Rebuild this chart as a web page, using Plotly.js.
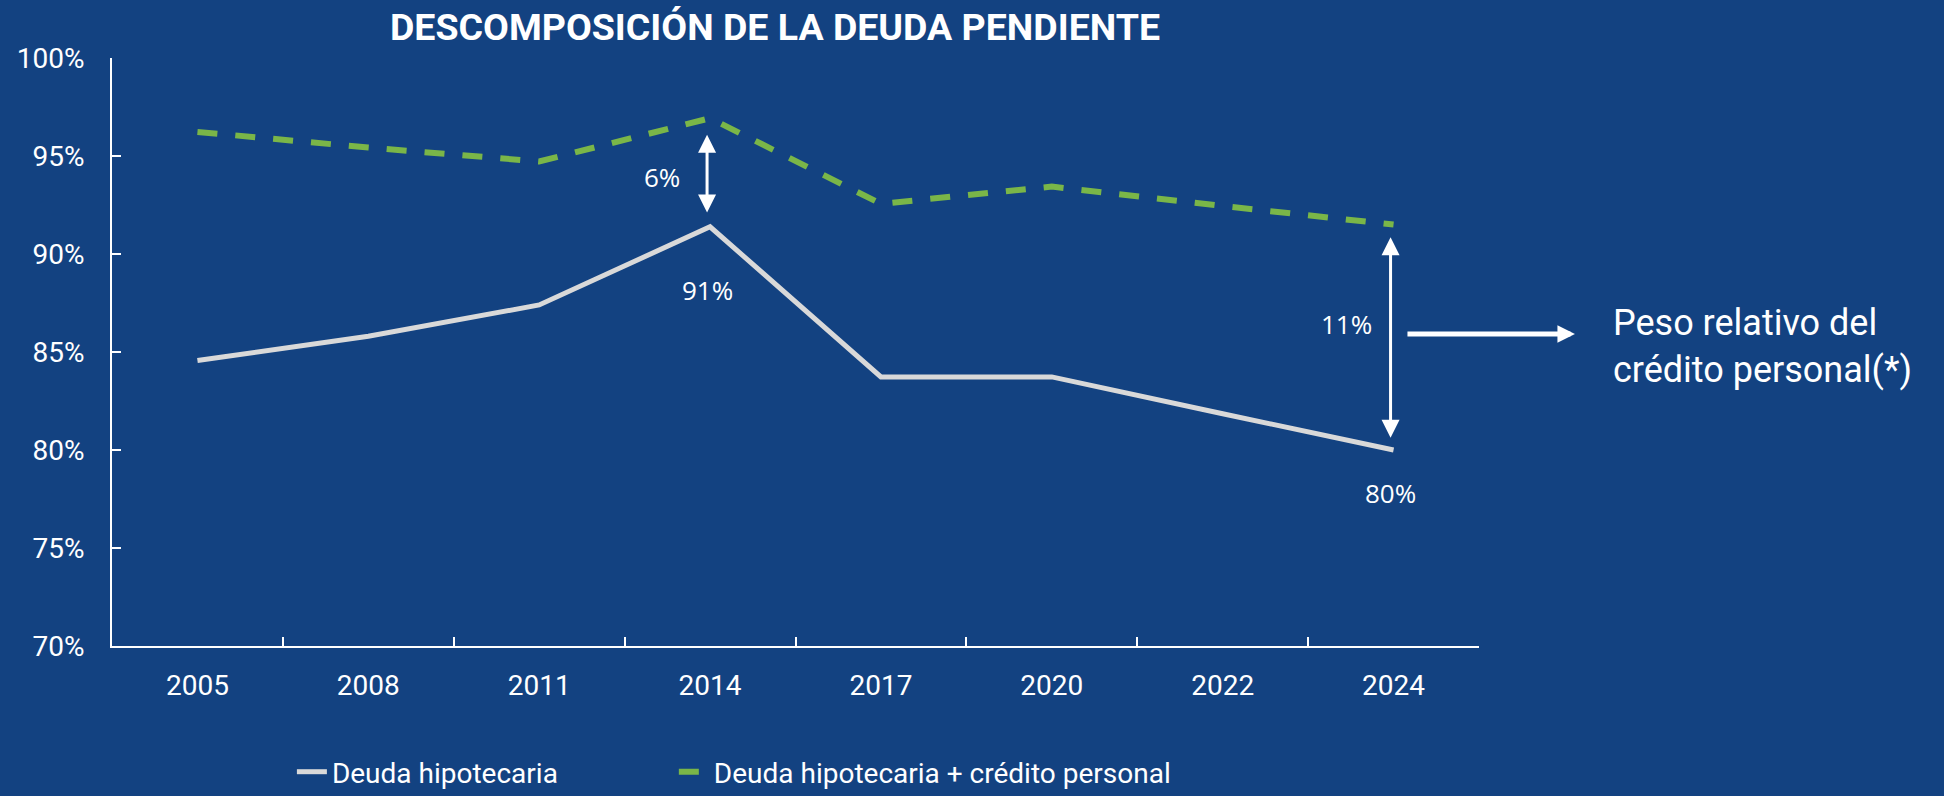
<!DOCTYPE html>
<html>
<head>
<meta charset="utf-8">
<script src="https://cdn.plot.ly/plotly-3.0.1.min.js"></script>
<style>
  html, body { margin: 0; padding: 0; background: #134281; }
  #chart { width: 1944px; height: 796px; }
</style>
</head>
<body>
<div id="chart"></div>
<script>
const years = ['2005', '2008', '2011', '2014', '2017', '2020', '2022', '2024'];
const deudaHipotecaria = [84.57, 85.8, 87.4, 91.39, 83.73, 83.73, 81.85, 80.0];
const deudaMasCredito = [96.23, 95.43, 94.72, 96.93, 92.56, 93.44, 92.45, 91.5];
const seriesNames = ['Deuda hipotecaria', 'Deuda hipotecaria + crédito personal'];
const yTicks = [70, 75, 80, 85, 90, 95, 100];
const titleText = 'DESCOMPOSICIÓN DE LA DEUDA PENDIENTE';
const noteText = 'Peso relativo del<br>crédito personal(*)';
const gapLabels = ['6%', '11%'];
const valueLabels = ['91%', '80%'];

const bg = '#134281';
const white = '#ffffff';

const i2014 = years.indexOf('2014');
const i2024 = years.indexOf('2024');

const traces = [
  {
    x: years, y: deudaHipotecaria, type: 'scatter', mode: 'lines',
    name: seriesNames[0], legend: 'legend',
    line: { color: '#d9d9d9', width: 5 }
  },
  {
    x: years, y: deudaMasCredito, type: 'scatter', mode: 'lines',
    name: seriesNames[1], legend: 'legend2',
    line: { color: '#7ab648', width: 6, dash: '20px,18px' }
  }
];

const numFont = { family: 'Open Sans, sans-serif', size: 26, color: white };
const legendFont = { family: 'Roboto, sans-serif', size: 28, color: white };
const legendY = 1 - 772 / 796;

const layout = {
  width: 1944, height: 796,
  paper_bgcolor: bg, plot_bgcolor: bg,
  margin: { l: 112, r: 465, t: 58, b: 150, autoexpand: false },
  font: { family: 'Roboto, sans-serif', color: white, size: 28 },
  title: {
    text: '<b>' + titleText + '</b>',
    font: { family: 'Roboto, sans-serif', size: 37.5, color: white },
    xref: 'container', yref: 'container',
    x: 775 / 1944, xanchor: 'center',
    y: 1 - 27 / 796, yanchor: 'middle'
  },
  showlegend: true,
  legend: {
    orientation: 'h',
    x: 0.1316, xanchor: 'left',
    yref: 'container', y: legendY, yanchor: 'middle',
    font: legendFont, bgcolor: 'rgba(0,0,0,0)'
  },
  legend2: {
    orientation: 'h',
    x: 0.411, xanchor: 'left',
    yref: 'container', y: legendY, yanchor: 'middle',
    font: legendFont, bgcolor: 'rgba(0,0,0,0)'
  },
  xaxis: {
    type: 'category',
    categoryorder: 'array', categoryarray: years,
    range: [-0.5, years.length - 0.5], autorange: false,
    tickson: 'boundaries',
    ticks: 'inside', ticklen: 9, tickwidth: 2, tickcolor: white,
    showline: true, linecolor: white, linewidth: 2,
    showgrid: false, zeroline: false,
    tickangle: 0,
    tickfont: { family: 'Roboto, sans-serif', size: 28, color: white },
    ticklabelstandoff: 13,
    fixedrange: true
  },
  yaxis: {
    range: [70, 100], autorange: false,
    tickvals: yTicks,
    ticktext: yTicks.map(v => v + '%'),
    ticks: 'inside', ticklen: 9, tickwidth: 2, tickcolor: white,
    showline: true, linecolor: white, linewidth: 2,
    showgrid: false, zeroline: false,
    tickfont: { family: 'Roboto, sans-serif', size: 28, color: white },
    ticklabelstandoff: 20,
    fixedrange: true
  },
  annotations: [
    // double arrow at 2014
    {
      x: i2014, y: deudaHipotecaria[i2014] + 0.73, xref: 'x', yref: 'y',
      ax: i2014, ay: deudaMasCredito[i2014] - 0.77, axref: 'x', ayref: 'y',
      text: '', showarrow: true, arrowhead: 2, startarrowhead: 2,
      arrowside: 'end+start', arrowwidth: 3, arrowsize: 1.2, startarrowsize: 1.2,
      arrowcolor: white, xshift: -3
    },
    {
      x: i2014, y: 93.93, xref: 'x', yref: 'y', xshift: -48,
      text: gapLabels[0], showarrow: false, font: numFont
    },
    {
      x: i2014, y: 88.18, xref: 'x', yref: 'y', xshift: -3,
      text: valueLabels[0], showarrow: false, font: numFont
    },
    // double arrow at 2024
    {
      x: i2024, y: deudaHipotecaria[i2024] + 0.63, xref: 'x', yref: 'y',
      ax: i2024, ay: deudaMasCredito[i2024] - 0.57, axref: 'x', ayref: 'y',
      text: '', showarrow: true, arrowhead: 2, startarrowhead: 2,
      arrowside: 'end+start', arrowwidth: 3, arrowsize: 1.2, startarrowsize: 1.2,
      arrowcolor: white, xshift: -3
    },
    {
      x: i2024, y: 86.44, xref: 'x', yref: 'y', xshift: -47,
      text: gapLabels[1], showarrow: false, font: numFont
    },
    {
      x: i2024, y: 77.83, xref: 'x', yref: 'y', xshift: -3,
      text: valueLabels[1], showarrow: false, font: numFont
    },
    // horizontal arrow to the note
    {
      x: 1.0702, y: 85.92, xref: 'paper', yref: 'y',
      ax: -169, ay: 0,
      text: '', showarrow: true, arrowhead: 2, arrowside: 'end',
      arrowwidth: 5, arrowsize: 0.7, arrowcolor: white
    },
    {
      x: 1.0962, y: 85.27, xref: 'paper', yref: 'y',
      xanchor: 'left', yanchor: 'middle', align: 'left',
      text: noteText, showarrow: false,
      font: { family: 'Roboto, sans-serif', size: 36, color: white }
    }
  ]
};

Plotly.newPlot('chart', traces, layout, { displayModeBar: false, staticPlot: true });
</script>
</body>
</html>
